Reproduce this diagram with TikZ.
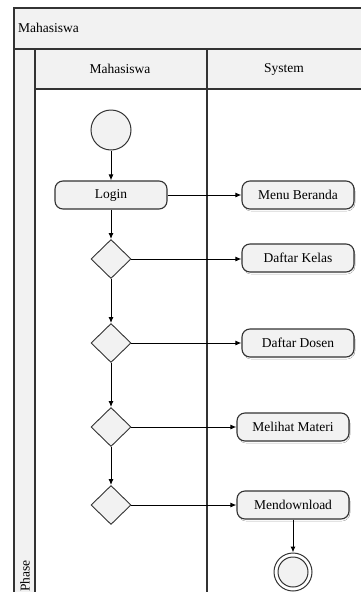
\documentclass[tikz,border=0pt]{standalone}
\usepackage{fontspec}
\setmainfont{Liberation Serif}
\usetikzlibrary{shapes.geometric,arrows.meta}
\definecolor{hdr}{HTML}{F2F2F2}
\definecolor{nodefill}{HTML}{F2F2F2}
\definecolor{edge}{HTML}{333333}
\definecolor{shade}{HTML}{DCE6F0}
\tikzset{
  lane/.style={draw=edge, line width=1.2pt},
  act/.style={draw=edge, line width=1.1pt, fill=nodefill, rounded corners=8pt,
    minimum width=112pt, minimum height=28pt, inner sep=0pt,
    font=\fontsize{13.5}{15}\selectfont},
  dec/.style={diamond, draw=edge, line width=0.9pt, fill=nodefill,
    minimum width=40pt, minimum height=39pt, inner sep=0pt},
  startnode/.style={circle, draw=edge, line width=1pt, fill=nodefill,
    minimum size=40pt, inner sep=0pt},
  flow/.style={draw=black, line width=1pt, -{Latex[length=6pt,width=5pt]}},
  lbl/.style={font=\fontsize{13.5}{15}\selectfont, inner sep=0pt}
}
\begin{document}
\begin{tikzpicture}[x=1pt,y=-1pt]
\useasboundingbox (0,0) rectangle (361,592);
\begin{scope}
\clip (0,0) rectangle (361,592);
% frame
\fill[hdr] (14,8) rectangle (370,49);
\fill[hdr] (14,49) rectangle (35,600);
\fill[hdr] (35,49) rectangle (370,89);
\draw[lane] (370,8) -- (14,8) -- (14,600);
\draw[lane] (14,49) -- (370,49);
\draw[lane] (35,49) -- (35,600);
\draw[lane] (35,89) -- (370,89);
\draw[lane] (207,49) -- (207,600);
\end{scope}
\node[lbl, anchor=west] (pool) at (18,28) {Mahasiswa};
\node[lbl] (laneA) at (120,69) {Mahasiswa};
\node[lbl] (laneB) at (284,69) {System};
\node[lbl, rotate=90, anchor=west] (phase) at (25,592) {Phase};
% shadows
\foreach \cx/\cy in {298/195,298/258,298/343,293/427,293/505}
  \fill[shade, rounded corners=8pt] (\cx-55,\cy-12) rectangle (\cx+57,\cy+16);
% nodes
\node[startnode] (start) at (111,130) {};
\node[act] (login) at (111,195) {Login};
\node[act] (menu) at (298,195) {Menu Beranda};
\node[dec] (d1) at (111,259) {};
\node[act] (kelas) at (298,258) {Daftar Kelas};
\node[dec] (d2) at (111,343) {};
\node[act] (dosen) at (298,343) {Daftar Dosen};
\node[dec] (d3) at (111,427) {};
\node[act] (materi) at (293,427) {Melihat Materi};
\node[dec] (d4) at (111,505) {};
\node[act] (download) at (293,505) {Mendownload};
\node[circle, draw=edge, line width=1pt, fill=white, minimum size=38pt, inner sep=0pt] (endo) at (293,572) {};
\node[circle, draw=edge, line width=1pt, fill=nodefill, minimum size=30pt, inner sep=0pt] (endi) at (293,572) {};
% flows
\draw[flow] (start) -- (login);
\draw[flow] (login) -- (menu);
\draw[flow] (login) -- (d1);
\draw[flow] (d1.east) -- (kelas.west |- d1.east);
\draw[flow] (d1) -- (d2);
\draw[flow] (d2.east) -- (dosen.west |- d2.east);
\draw[flow] (d2) -- (d3);
\draw[flow] (d3.east) -- (materi.west |- d3.east);
\draw[flow] (d3) -- (d4);
\draw[flow] (d4.east) -- (download.west |- d4.east);
\draw[flow] (download) -- (endo);
\end{tikzpicture}
\end{document}
